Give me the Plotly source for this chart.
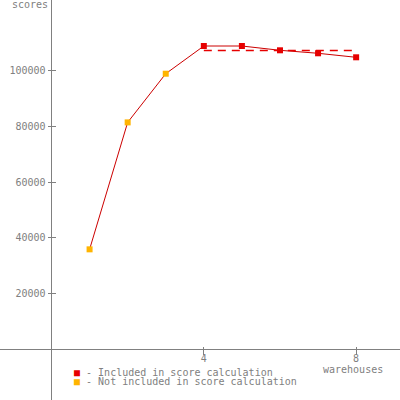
import plotly.graph_objects as go

# warehouses / scores
warehouses = [1, 2, 3, 4, 5, 6, 7, 8]
scores = [35900, 81400, 98850, 108780, 108780, 107240, 106170, 104730]
included = [False, False, False, True, True, True, True, True]

x_ticks = [4, 8]
y_ticks = [20000, 40000, 60000, 80000, 100000]

RED = '#e60000'
ORANGE = '#ffb400'
GRAY = '#808080'
FONT = dict(family='DejaVu Sans Mono', size=10, color=GRAY)

inc_x = [w for w, i in zip(warehouses, included) if i]
inc_y = [s for s, i in zip(scores, included) if i]
avg = sum(inc_y) / len(inc_y)

traces = []

# score line
traces.append(go.Scatter(
    x=warehouses, y=scores, mode='lines',
    line=dict(color='#cc0000', width=1),
    showlegend=False, hoverinfo='skip'
))

# mean of included points
traces.append(go.Scatter(
    x=[inc_x[0], inc_x[-1]], y=[avg, avg], mode='lines',
    line=dict(color=RED, width=1.5, dash='8px,6px'),
    showlegend=False, hoverinfo='skip'
))

# markers
traces.append(go.Scatter(
    x=warehouses, y=scores, mode='markers',
    marker=dict(symbol='square', size=6,
                color=[RED if i else ORANGE for i in included],
                line=dict(width=0)),
    showlegend=False
))

# axes layout: px per unit
x0_px, x_unit = 51.5, 38.08
y0_px, y_unit = 349.5, 55.8 / 20000

layout = go.Layout(
    width=400, height=400,
    margin=dict(l=0, r=0, t=0, b=0, pad=0),
    plot_bgcolor='white', paper_bgcolor='white',
    font=FONT,
    showlegend=False,
    xaxis=dict(
        range=[-x0_px / x_unit, (400 - x0_px) / x_unit],
        showgrid=False, zeroline=True, zerolinecolor=GRAY, zerolinewidth=1,
        tickvals=x_ticks, ticks='outside', ticklen=8, tickcolor=GRAY,
        anchor='free', position=(400 - y0_px + 4) / 400,
        ticklabelstandoff=-5,
        tickfont=FONT, showline=False, automargin=False
    ),
    yaxis=dict(
        range=[-(400 - y0_px) / y_unit, y0_px / y_unit],
        showgrid=False, zeroline=True, zerolinecolor=GRAY, zerolinewidth=1,
        tickvals=y_ticks, tickformat='d', ticks='outside', ticklen=8, tickcolor=GRAY,
        anchor='free', position=(x0_px + 4) / 400,
        tickfont=FONT, showline=False, automargin=False
    ),
    annotations=[
        dict(text='scores', xref='paper', yref='paper', x=30 / 400, y=1 - 5 / 400,
             showarrow=False, font=FONT, xanchor='center', yanchor='middle'),
        dict(text='warehouses', xref='paper', yref='paper', x=353 / 400, y=1 - 369 / 400,
             showarrow=False, font=FONT, xanchor='center', yanchor='middle'),
        dict(text='<span style="color:%s">■</span> - Included in score calculation' % RED,
             xref='paper', yref='paper', x=72 / 400, y=1 - 372 / 400,
             showarrow=False, font=FONT, xanchor='left', yanchor='middle'),
        dict(text='<span style="color:%s">■</span> - Not included in score calculation' % ORANGE,
             xref='paper', yref='paper', x=72 / 400, y=1 - 381 / 400,
             showarrow=False, font=FONT, xanchor='left', yanchor='middle'),
    ]
)

fig = go.Figure(data=traces, layout=layout)
fig.write_html("out.html", config=dict(displayModeBar=False),
               post_script="document.body.style.margin='0';")
